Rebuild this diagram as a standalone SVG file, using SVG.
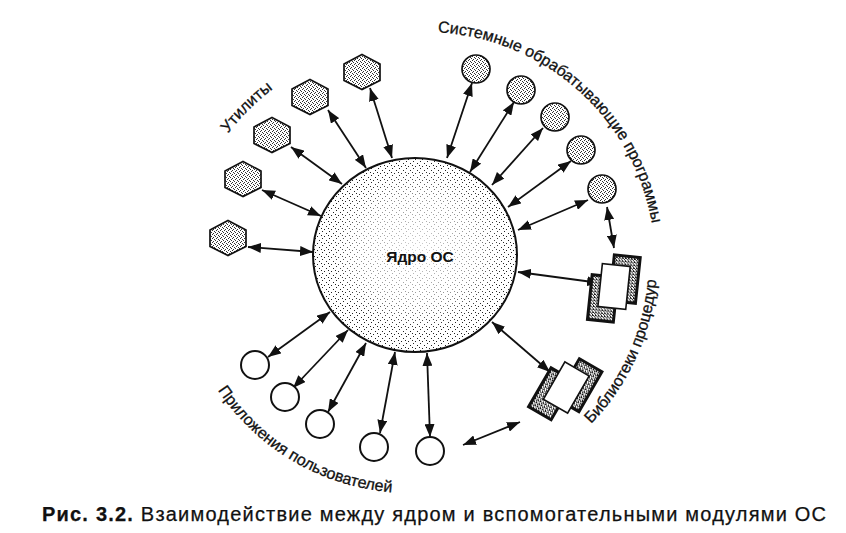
<svg xmlns="http://www.w3.org/2000/svg" width="846" height="533" viewBox="0 0 846 533">
<style>
.lbl{font-family:"Liberation Sans",Arial,sans-serif;font-size:16px;fill:#111;stroke:#111;stroke-width:0.3}
.hex{fill:url(#dotsMed);stroke:#111;stroke-width:1.7}
.sys{fill:url(#dotsMed);stroke:#111;stroke-width:1.7}
.app{fill:#fff;stroke:#111;stroke-width:2}
.libw{fill:#fff;stroke:#111;stroke-width:1.6}
.libd{fill:url(#dotsDark);stroke:#111;stroke-width:3}
</style>
<defs>
<pattern id="dotsLight" width="7" height="7" patternUnits="userSpaceOnUse">
<rect width="7" height="7" fill="#fff"/>
<rect x="0" y="0" width="1" height="1" fill="#222"/>
<rect x="4" y="2" width="1" height="1" fill="#222"/>
<rect x="2" y="5" width="1" height="1" fill="#222"/>
<rect x="6" y="4" width="1" height="1" fill="#222"/>
</pattern>
<pattern id="dotsMed" width="4" height="4" patternUnits="userSpaceOnUse">
<rect width="4" height="4" fill="#fff"/>
<rect x="0" y="0" width="1" height="1" fill="#333"/>
<rect x="2" y="1" width="1" height="1" fill="#333"/>
<rect x="1" y="3" width="1" height="1" fill="#333"/>
<rect x="3" y="2" width="1" height="1" fill="#333"/>
</pattern>
<pattern id="dotsDark" width="3" height="3" patternUnits="userSpaceOnUse">
<rect width="3" height="3" fill="#fff"/>
<rect x="0" y="0" width="1" height="1" fill="#111"/>
<rect x="1" y="1" width="1" height="1" fill="#111"/>
<rect x="2" y="2" width="1" height="1" fill="#111"/>
<rect x="2" y="0" width="1" height="1" fill="#111"/>
</pattern>
<radialGradient id="glow" cx="0.5" cy="0.5" r="0.5">
<stop offset="0" stop-color="#fff" stop-opacity="0.8"/>
<stop offset="0.65" stop-color="#fff" stop-opacity="0.5"/>
<stop offset="1" stop-color="#fff" stop-opacity="0"/>
</radialGradient>
<marker id="ah" viewBox="0 0 13 10" refX="13" refY="5" markerWidth="13" markerHeight="10" markerUnits="userSpaceOnUse" orient="auto-start-reverse">
<path d="M0,0 L13,5 L0,10 z" fill="#111"/>
</marker>
<polygon id="hexShape" points="0,-17.5 18,-8 18,8.5 0,17.5 -18,8.5 -18,-8"/>
<path id="arcSys" d="M437.8,32.4 A230,230 0 0,1 655,262"/>
<path id="arcUtil" d="M228,133.6 A230,230 0 0,1 332.3,56.9"/>
<path id="arcLib" d="M591,424 A232,232 0 0,0 656.1,241.8"/>
<path id="arcApp" d="M217.8,390.2 A231,231 0 0,0 430.1,492.1"/>
</defs>

<g id="connectors" stroke="#111" stroke-width="1.8" fill="none" marker-start="url(#ah)" marker-end="url(#ah)">
<line x1="370" y1="88" x2="392" y2="158"/>
<line x1="328" y1="110" x2="366" y2="168"/>
<line x1="291" y1="147" x2="342" y2="184"/>
<line x1="262" y1="190" x2="321" y2="216"/>
<line x1="248" y1="247" x2="313" y2="252"/>
<line x1="472" y1="83" x2="447" y2="158"/>
<line x1="514" y1="102" x2="470" y2="172"/>
<line x1="543" y1="128" x2="492" y2="185"/>
<line x1="571" y1="161" x2="508" y2="207"/>
<line x1="588" y1="200" x2="518" y2="230"/>
<line x1="607" y1="207" x2="614" y2="248"/>
<line x1="518" y1="272" x2="600" y2="283"/>
<line x1="492" y1="322" x2="550" y2="372"/>
<line x1="268" y1="357" x2="330" y2="312"/>
<line x1="293" y1="388" x2="348" y2="330"/>
<line x1="328" y1="412" x2="366" y2="343"/>
<line x1="380" y1="433" x2="395" y2="352"/>
<line x1="430" y1="437" x2="427" y2="353"/>
<line x1="463" y1="445" x2="520" y2="422"/>
</g>

<g id="kernel">
<ellipse cx="415" cy="255" rx="102" ry="97" fill="url(#dotsLight)"/>
<ellipse cx="418" cy="250" rx="88" ry="82" fill="url(#glow)"/>
<ellipse cx="415" cy="255" rx="102" ry="97" fill="none" stroke="#111" stroke-width="2"/>
<text x="420" y="262" text-anchor="middle" font-family="Liberation Sans, Arial, sans-serif" font-size="15.5" font-weight="bold" fill="#111">Ядро ОС</text>
</g>

<g id="util1"><use href="#hexShape" class="hex" transform="translate(362,72)"/></g>
<g id="util2"><use href="#hexShape" class="hex" transform="translate(310,97)"/></g>
<g id="util3"><use href="#hexShape" class="hex" transform="translate(272,135)"/></g>
<g id="util4"><use href="#hexShape" class="hex" transform="translate(243,179)"/></g>
<g id="util5"><use href="#hexShape" class="hex" transform="translate(228,238)"/></g>

<g id="sys1"><circle cx="476" cy="69" r="14" class="sys"/></g>
<g id="sys2"><circle cx="521" cy="90" r="14" class="sys"/></g>
<g id="sys3"><circle cx="555" cy="117" r="14" class="sys"/></g>
<g id="sys4"><circle cx="581" cy="150" r="14" class="sys"/></g>
<g id="sys5"><circle cx="602" cy="189" r="14" class="sys"/></g>

<g id="lib1" transform="translate(614,287) rotate(6)">
<rect class="libd" x="-3" y="-32" width="26" height="46"/>
<rect class="libd" x="-23" y="-10" width="26" height="45"/>
<rect class="libw" x="-14" y="-22" width="28" height="43"/>
</g>
<g id="lib2" transform="translate(566,388) rotate(30)">
<rect class="libd" x="-3" y="-32" width="26" height="46"/>
<rect class="libd" x="-23" y="-10" width="26" height="45"/>
<rect class="libw" x="-14" y="-22" width="28" height="43"/>
</g>

<g id="app1"><circle cx="255" cy="365" r="14" class="app"/></g>
<g id="app2"><circle cx="285" cy="397" r="14" class="app"/></g>
<g id="app3"><circle cx="320" cy="424" r="14" class="app"/></g>
<g id="app4"><circle cx="374" cy="447" r="14" class="app"/></g>
<g id="app5"><circle cx="430" cy="451" r="14" class="app"/></g>

<g id="labels">
<text class="lbl"><textPath href="#arcUtil">Утилиты</textPath></text>
<text class="lbl"><textPath href="#arcSys">Системные обрабатывающие программы</textPath></text>
<text class="lbl"><textPath href="#arcLib">Библиотеки процедур</textPath></text>
<text class="lbl"><textPath href="#arcApp">Приложения пользователей</textPath></text>
</g>

<g id="caption">
<text x="42" y="521" font-family="Liberation Sans, Arial, sans-serif" font-size="20" fill="#111" stroke="#111" stroke-width="0.25" textLength="784" lengthAdjust="spacing"><tspan font-weight="bold">Рис. 3.2.</tspan> Взаимодействие между ядром и вспомогательными модулями ОС</text>
</g>
</svg>
